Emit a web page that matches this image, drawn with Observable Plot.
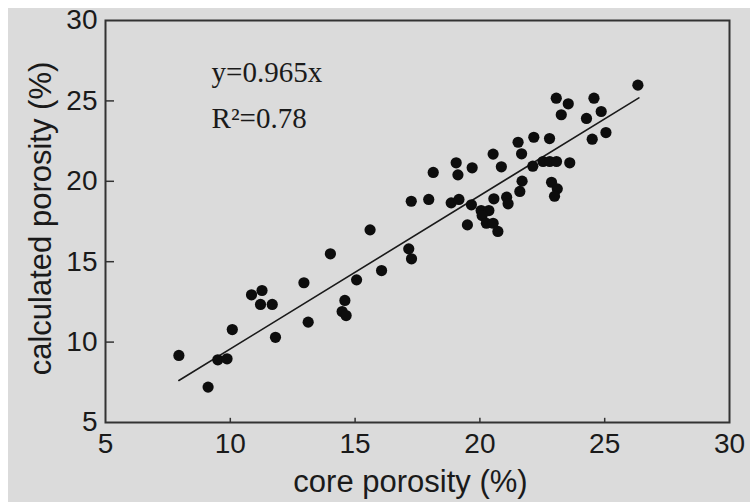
<!DOCTYPE html>
<html>
<head>
<meta charset="utf-8">
<script src="https://cdn.jsdelivr.net/npm/d3@7"></script>
<script src="https://cdn.jsdelivr.net/npm/@observablehq/plot@0.6"></script>
<style>
  html, body { margin: 0; padding: 0; }
  body {
    width: 750px; height: 502px;
    background:
      linear-gradient(#ffffff, #ffffff) top left / 100% 8px no-repeat,
      linear-gradient(#ffffff, #ffffff) top left / 8px 100% no-repeat,
      #dbdbdb;
  }
  svg { display: block; }
</style>
</head>
<body>
<div id="wrap"></div>
<script>
const corePorosity = [7.94, 9.11, 9.50, 9.87, 10.08, 10.85, 11.27, 11.21, 11.68, 11.81,
  12.95, 13.12, 14.01, 14.59, 14.48, 14.64, 15.06, 15.60, 16.06, 17.15,
  17.26, 17.25, 17.95, 18.13, 18.85, 19.16, 19.05, 19.12, 19.69, 19.66,
  19.50, 20.05, 20.36, 20.09, 20.26, 20.53, 20.72, 20.53, 20.56, 20.86,
  21.07, 21.13, 21.53, 21.67, 21.69, 21.60, 22.16, 22.12, 22.53, 22.79,
  22.80, 23.07, 22.87, 23.10, 22.99, 23.06, 23.26, 23.54, 23.60, 24.27,
  24.57, 24.86, 24.50, 25.05, 26.33];
const calculatedPorosity = [9.17, 7.20, 8.90, 8.96, 10.78, 12.94, 13.21, 12.34, 12.34, 10.30,
  13.69, 11.24, 15.49, 12.59, 11.90, 11.65, 13.87, 16.98, 14.45, 15.80,
  15.18, 18.76, 18.87, 20.55, 18.66, 18.87, 21.15, 20.40, 20.84, 18.54,
  17.29, 18.18, 18.18, 17.87, 17.39, 17.39, 16.88, 21.69, 18.91, 20.90,
  19.01, 18.60, 22.43, 21.71, 20.01, 19.37, 22.74, 20.94, 21.23, 22.66,
  21.23, 21.23, 19.94, 19.53, 19.07, 25.17, 24.14, 24.82, 21.15, 23.91,
  25.17, 24.34, 22.62, 23.03, 25.98];
const fitX = [7.94, 26.37];
const fitY = [7.61, 25.19];
const xTicks = [5, 10, 15, 20, 25, 30];
const yTicks = [5, 10, 15, 20, 25, 30];
const xLabel = "core porosity (%)";
const yLabel = "calculated porosity (%)";
const eqLines = ["y=0.965x", "R\u00B2=0.78"];
const eqX = [9.25, 9.25];
const eqY = [26.15, 23.3];

const points = corePorosity.map((x, i) => ({x, y: calculatedPorosity[i]}));
const fit = fitX.map((x, i) => ({x, y: fitY[i]}));
const eq = eqLines.map((t, i) => ({t, x: eqX[i], y: eqY[i]}));
const xMin = xTicks[0], yMin = yTicks[0];
const innerX = xTicks.slice(1, -1), innerY = yTicks.slice(1, -1);

const sans = "'Liberation Sans', Arial, sans-serif";
const serif = "'Liberation Serif', 'Times New Roman', serif";

const chart = Plot.plot({
  width: 750,
  height: 502,
  marginLeft: 105,
  marginRight: 21,
  marginTop: 20,
  marginBottom: 80,
  style: {background: "transparent", fontFamily: sans, color: "#1a1a1a"},
  x: {domain: [5, 30]},
  y: {domain: [5, 30]},
  marks: [
    Plot.axisX({ticks: xTicks, tickSize: 0, tickPadding: 11, fontSize: 28, label: null, fill: "#1a1a1a"}),
    Plot.axisY({ticks: yTicks, tickSize: 0, tickPadding: 8, fontSize: 28, label: null, fill: "#1a1a1a"}),
    Plot.ruleX(innerX, {x: d => d, y1: yMin, y2: yMin + 0.26, stroke: "#333", strokeWidth: 1.5}),
    Plot.ruleY(innerY, {y: d => d, x1: xMin, x2: xMin + 0.36, stroke: "#333", strokeWidth: 1.5}),
    Plot.frame({stroke: "#333", strokeWidth: 2}),
    Plot.line(fit, {x: "x", y: "y", stroke: "#1a1a1a", strokeWidth: 1.6}),
    Plot.dot(points, {x: "x", y: "y", r: 5.6, fill: "#0d0d0d", stroke: "none"}),
    Plot.text(eq, {x: "x", y: "y", text: "t", textAnchor: "start", lineAnchor: "bottom", fontFamily: serif, fontSize: 29, fill: "#1a1a1a"}),
    Plot.text([xLabel], {frameAnchor: "bottom", textAnchor: "middle", lineAnchor: "bottom", dx: -7, dy: 69, fontSize: 31, fill: "#1a1a1a"}),
    Plot.text([yLabel], {frameAnchor: "left", textAnchor: "middle", lineAnchor: "bottom", rotate: -90, dx: -55, dy: -3, fontSize: 31, fill: "#1a1a1a"})
  ]
});
document.getElementById("wrap").appendChild(chart);
</script>
</body>
</html>
